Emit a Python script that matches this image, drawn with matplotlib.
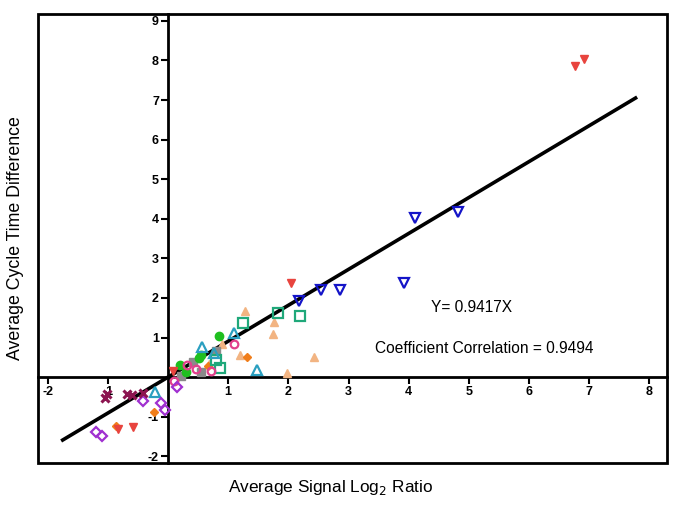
import matplotlib
matplotlib.use("Agg")
import matplotlib.pyplot as plt
from matplotlib.patches import Rectangle

plt.rcParams['font.family'] = ['Liberation Sans', 'DejaVu Sans']

# ---- data ----
red_x = [6.77, 6.92, 2.05, 0.08, -0.83, -0.58]
red_y = [7.87, 8.04, 2.38, 0.15, -1.30, -1.27]

blue_x = [2.17, 2.55, 2.86, 3.92, 4.10, 4.82]
blue_y = [1.93, 2.21, 2.20, 2.38, 4.02, 4.16]

tsq_x = [0.79, 0.87, 1.25, 1.82, 2.20]
tsq_y = [0.42, 0.23, 1.36, 1.61, 1.54]

tan_x = [0.68, 0.90, 1.20, 1.28, 1.76, 1.75, 2.42, 1.98]
tan_y = [0.32, 0.83, 0.55, 1.67, 1.40, 1.09, 0.51, 0.10]

ttri_x = [0.57, 1.09, 1.48, -0.21, 0.77]
ttri_y = [0.76, 1.11, 0.19, -0.38, 0.62]

gray_x = [0.22, 0.42, 0.55, 0.79]
gray_y = [0.02, 0.38, 0.14, 0.66]

green_x = [0.20, 0.30, 0.55, 0.84, 0.52]
green_y = [0.30, 0.12, 0.55, 1.05, 0.48]

pink_x = [0.10, 0.31, 0.47, 0.71, 1.10]
pink_y = [-0.10, 0.30, 0.20, 0.15, 0.83]

orange_x = [1.32, 0.67, -0.23, -0.87]
orange_y = [0.51, 0.29, -0.88, -1.23]

purple_x = [-1.19, -1.09, -0.42, -0.12, -0.05, 0.15]
purple_y = [-1.39, -1.49, -0.60, -0.66, -0.83, -0.25]

cross_x = [-1.05, -1.02, -0.68, -0.60, -0.41]
cross_y = [-0.52, -0.42, -0.42, -0.45, -0.40]

line_x = [-1.75, 7.77]
line_y = [-1.59, 7.05]

xticks = [-2, -1, 1, 2, 3, 4, 5, 6, 7, 8]
yticks = [-2, -1, 1, 2, 3, 4, 5, 6, 7, 8, 9]

fig = plt.figure(figsize=(6.85, 5.13), dpi=100)
ax = fig.add_axes([0.0555, 0.0975, 0.918, 0.875])
ax.set_xlim(-2.16, 8.29)
ax.set_ylim(-2.17, 9.17)

ax.plot(line_x, line_y, color='black', lw=2.6, zorder=3)

ms = 6
ax.plot(tan_x, tan_y, '^', color='#f2b482', ms=ms, ls='none', zorder=4)
ax.plot(gray_x, gray_y, 's', color='#8a8a8a', ms=ms, ls='none', zorder=4)
ax.plot(green_x, green_y, 'o', color='#1fbf1f', ms=ms, ls='none', zorder=4)
ax.plot(orange_x, orange_y, 'D', color='#f07d1a', ms=4.5, ls='none', zorder=4)
ax.plot(tsq_x, tsq_y, 's', mfc='none', mec='#1fa87a', mew=1.6, ms=ms + 0.5, ls='none', zorder=5)
ax.plot(ttri_x, ttri_y, '^', mfc='none', mec='#2a9fc0', mew=1.6, ms=ms + 0.5, ls='none', zorder=5)
ax.plot(pink_x, pink_y, 'o', mfc='none', mec='#e2408c', mew=1.6, ms=ms - 0.5, ls='none', zorder=5)
ax.plot(purple_x, purple_y, 'D', mfc='none', mec='#a030d0', mew=1.6, ms=ms - 0.5, ls='none', zorder=5)
ax.plot(cross_x, cross_y, 'x', color='#8c1450', mew=2.2, ms=ms, ls='none', zorder=5)
ax.plot(blue_x, blue_y, 'v', mfc='none', mec='#1414c8', mew=1.6, ms=ms + 0.5, ls='none', zorder=5)
ax.plot(red_x, red_y, 'v', color='#e8443e', ms=ms, ls='none', zorder=5)

for s in ['top', 'right']:
    ax.spines[s].set_visible(False)
ax.spines['left'].set_position(('data', 0))
ax.spines['bottom'].set_position(('data', 0))
ax.spines['left'].set_linewidth(2)
ax.spines['bottom'].set_linewidth(2)
ax.add_patch(Rectangle((0, 0), 1, 1, transform=ax.transAxes, fill=False,
                       lw=2, ec='black', clip_on=False, zorder=6))

ax.set_xticks(xticks)
ax.set_yticks(yticks)
ax.set_xticklabels([str(v) for v in xticks], fontsize=9, fontweight='bold')
ax.set_yticklabels([str(v) for v in yticks], fontsize=9, fontweight='bold')
ax.tick_params(axis='both', direction='out', length=5, width=1.5, pad=1.5)

ax.text(5.04, 1.77, 'Y= 0.9417X', fontsize=11.2, ha='center', va='center')
ax.text(5.26, 0.71, 'Coefficient Correlation = 0.9494', fontsize=11.2, ha='center', va='center')

fig.text(0.482, 0.05, 'Average Signal Log$_2$ Ratio', fontsize=12.4, ha='center', va='center')
fig.text(0.022, 0.535, 'Average Cycle Time Difference', fontsize=12.8, ha='center', va='center',
         rotation=90)

fig.savefig('out.png', dpi=100)
